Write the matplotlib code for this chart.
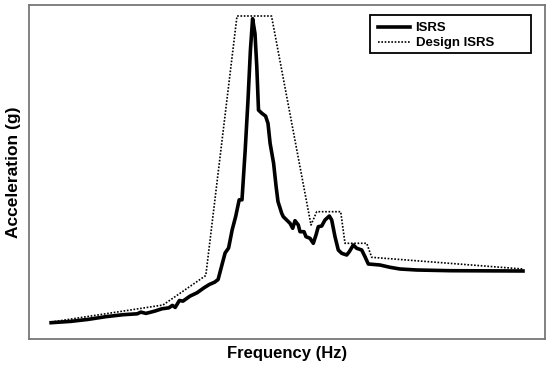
import matplotlib
matplotlib.use("Agg")
import matplotlib.pyplot as plt
from matplotlib.patches import Rectangle

plt.rcParams['font.family'] = ['Liberation Sans', 'DejaVu Sans']

# ISRS curve (arbitrary units)
isrs_x = [22.1, 41.5, 59.1, 76.6, 94.2, 108.3, 111.8, 117.0, 125.8, 132.9,
          139.9, 143.4, 146.2, 150.4, 154.0, 161.0, 168.0, 175.0, 180.3, 185.6,
          189.1, 192.6, 196.1, 199.6, 203.2, 206.7, 210.2, 213.0, 216.2, 219.0,
          221.4, 223.6, 226.0, 227.8, 229.5, 233.0, 236.6, 239.0, 241.1, 244.6,
          247.1, 249.0, 252.7, 254.3, 261.0, 263.7, 266.0, 269.3, 271.0, 275.0,
          277.0, 281.0, 284.3, 287.0, 289.3, 292.7, 296.0, 300.3, 302.7, 306.0,
          309.3, 312.7, 317.7, 320.3, 324.3, 327.7, 332.7, 336.0, 339.3, 351.0,
          361.0, 371.0, 387.7, 421.0, 494.0]
isrs_y = [16.3, 17.6, 19.6, 22.3, 24.3, 25.2, 26.9, 25.6, 27.9, 30.2,
          31.2, 33.6, 31.6, 38.5, 37.9, 42.9, 46.2, 51.2, 54.5, 56.8,
          59.5, 72.8, 86.0, 91.0, 109.3, 122.6, 139.2, 139.2, 189.0, 238.9,
          288.7, 320.3, 305.3, 272.1, 228.9, 225.6, 222.9, 215.6, 195.7, 175.7,
          152.5, 137.4, 125.7, 122.3, 115.7, 110.7, 118.3, 114.0, 107.3, 107.3,
          102.3, 100.7, 95.7, 104.0, 112.3, 113.0, 119.0, 123.0, 119.0, 102.3,
          89.0, 85.7, 84.0, 87.3, 94.0, 90.7, 89.0, 82.3, 75.0, 74.0,
          71.7, 70.0, 69.0, 68.3, 68.0]

# Design ISRS envelope
design_x = [22.1, 134.0, 176.8, 208.0, 242.5, 282.0, 287.7, 311.7, 316.0, 337.7, 342.7, 494.0]
design_y = [16.9, 34.0, 63.5, 323.0, 323.0, 114.0, 127.3, 127.3, 95.7, 95.7, 81.7, 70.0]

W, H = 550, 369
fig = plt.figure(figsize=(W / 100, H / 100), dpi=100)
ax = fig.add_axes([29 / W, 30 / H, 516 / W, 334.5 / H])

ax.plot(isrs_x, isrs_y, color='black', lw=2.6, label='ISRS')
ax.plot(design_x, design_y, color='black', lw=1.2, ls=(0, (1, 1)), label='Design ISRS')

ax.set_xlim(0, 516)
ax.set_ylim(0, 334.5)
ax.set_xticks([])
ax.set_yticks([])
for s in ax.spines.values():
    s.set_color('#777777')
    s.set_linewidth(1.3)

ax.set_xlabel('Frequency (Hz)', fontsize=12, fontweight='bold', labelpad=5)
ax.set_ylabel('Acceleration (g)', fontsize=12.5, fontweight='bold', labelpad=6)

# legend without frame, the box is drawn wider like in the original
leg = ax.legend(loc='upper left', bbox_to_anchor=(370 / W, 1 - 14 / H),
                bbox_transform=fig.transFigure, borderaxespad=0,
                prop={'weight': 'bold', 'size': 9.5}, frameon=False,
                handlelength=2.4, handletextpad=0.45, borderpad=0.6,
                labelspacing=0.22)
fig.patches.append(Rectangle((370 / W, 1 - 53 / H), 161 / W, 38 / H,
                             transform=fig.transFigure, fill=False,
                             edgecolor='black', lw=1.3, zorder=5))

fig.savefig('out.png', dpi=100)
